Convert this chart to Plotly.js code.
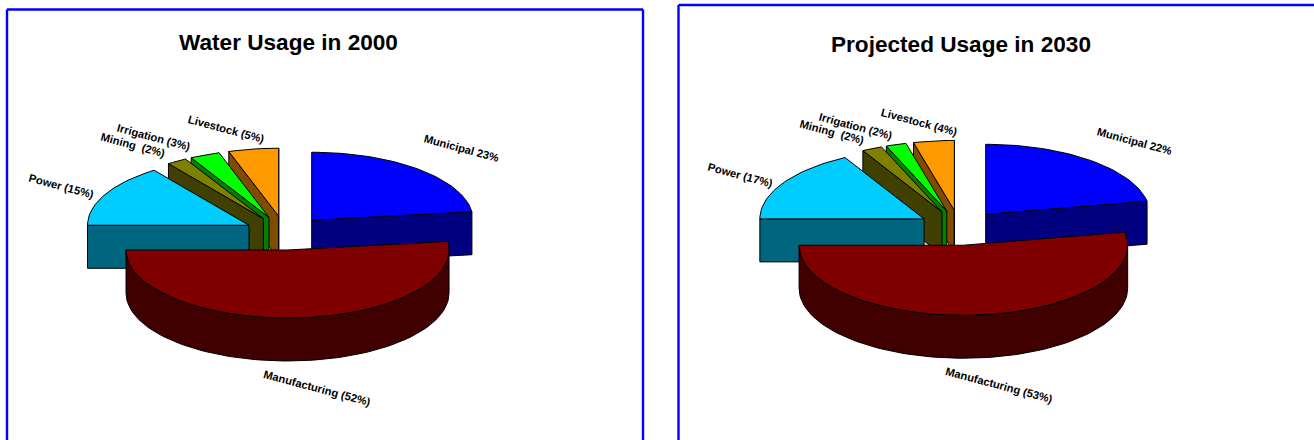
<!DOCTYPE html>
<html>
<head>
<meta charset="utf-8">
<script src="https://cdn.plot.ly/plotly-3.0.1.min.js"></script>
<style>html,body{margin:0;padding:0;background:#fff}#chart{width:1314px;height:440px}</style>
</head>
<body>
<div id="chart"></div>
<script>
// Shares of water use by sector, clockwise from twelve o'clock.
const sectors = ['Municipal', 'Manufacturing', 'Power', 'Mining', 'Irrigation', 'Livestock'];
const usage2000 = [23, 52, 15, 2, 3, 5];
const usage2030 = [22, 53, 17, 2, 2, 4];
const labels2000 = ['Municipal 23%', 'Manufacturing (52%)', 'Power (15%)', 'Mining  (2%)', 'Irrigation (3%)', 'Livestock (5%)'];
const labels2030 = ['Municipal 22%', 'Manufacturing (53%)', 'Power (17%)', 'Mining  (2%)', 'Irrigation (2%)', 'Livestock (4%)'];
const title2000 = 'Water Usage in 2000';
const title2030 = 'Projected Usage in 2030';

// Top face and side wall colours per sector.
const topColors = ['#0000ff', '#800000', '#00ccff', '#808000', '#00ff00', '#ff9900'];
const wallColors = ['#000080', '#400000', '#006680', '#404000', '#008000', '#804c00'];

// Back-to-front painting order so nearer slices overlap farther ones.
const paintOrder = [5, 4, 3, 2, 0, 1];

const FONT = 'Liberation Sans, Arial, sans-serif';
const EXPLODE = 0.25;
const DEPTH = 43;

const pieLeft = {cx: 285, cy: 233, rx: 161.5, ry: 68};
const pieRight = {cx: 959.5, cy: 227.8, rx: 164.3, ry: 70};

// Label centres, in the same order as the sectors.
const labelSpotsLeft = [[461, 148], [317, 388], [61, 186], [133, 145], [153, 137], [226, 129]];
const labelSpotsRight = [[1134, 141], [999, 385], [740, 175], [832, 132], [855, 126], [919, 122]];

const rad = d => d * Math.PI / 180;

function arcPoints(pie, ax, ay, from, to, dy) {
  const pts = [];
  const steps = Math.max(2, Math.ceil(Math.abs(to - from) / 2));
  for (let i = 0; i <= steps; i++) {
    const a = rad(from + (to - from) * i / steps);
    pts.push([ax + pie.rx * Math.sin(a), ay - pie.ry * Math.cos(a) + dy]);
  }
  return pts;
}

function face(points, color, name) {
  const closed = points.concat([points[0]]);
  return {
    type: 'scatter', mode: 'lines', fill: 'toself', fillcolor: color, name,
    x: closed.map(p => p[0]), y: closed.map(p => p[1]),
    line: {color: '#000000', width: 1}, hoverinfo: 'name', showlegend: false
  };
}

// One exploded slice: visible side walls first, top face last.
function sliceTraces(pie, values, i) {
  const total = values.reduce((s, v) => s + v, 0);
  const before = values.slice(0, i).reduce((s, v) => s + v, 0);
  const a0 = before / total * 360;
  const a1 = (before + values[i]) / total * 360;
  const mid = rad((a0 + a1) / 2);
  const ax = pie.cx + EXPLODE * pie.rx * Math.sin(mid);
  const ay = pie.cy - EXPLODE * pie.ry * Math.cos(mid);
  const out = [];

  const radialWall = a => {
    const rim = arcPoints(pie, ax, ay, a, a, 0)[0];
    return [[ax, ay], rim, [rim[0], rim[1] + DEPTH], [ax, ay + DEPTH]];
  };
  if (Math.sin(rad(a0)) < -1e-6 || a0 >= 180) out.push(face(radialWall(a0), wallColors[i], sectors[i]));
  if (Math.sin(rad(a1)) > 1e-6 || a1 === 360) out.push(face(radialWall(a1), wallColors[i], sectors[i]));

  const from = Math.max(a0, 90), to = Math.min(a1, 270);
  if (to > from) {
    const upper = arcPoints(pie, ax, ay, from, to, 0);
    const lower = arcPoints(pie, ax, ay, to, from, DEPTH);
    out.push(face(upper.concat(lower), wallColors[i], sectors[i]));
  }
  const top = [[ax, ay]].concat(arcPoints(pie, ax, ay, a0, a1, 0));
  out.push(face(top, topColors[i], sectors[i]));
  return out;
}

function pieTraces(pie, values) {
  return paintOrder.flatMap(i => sliceTraces(pie, values, i));
}

function sliceLabels(texts, spots) {
  return texts.map((text, i) => ({
    text: '<b>' + text.replace('  ', '&nbsp; ') + '</b>',
    x: spots[i][0], y: spots[i][1], xref: 'x', yref: 'y', showarrow: false,
    textangle: 15, xanchor: 'center', yanchor: 'middle',
    font: {family: FONT, size: 11.2, color: '#000000'}
  }));
}

function heading(text, x, y) {
  return {text: '<b>' + text + '</b>', x, y, xref: 'x', yref: 'y', showarrow: false,
    xanchor: 'center', yanchor: 'middle', font: {family: FONT, size: 22.6, color: '#000000'}};
}

function rule(x0, y0, x1, y1) {
  return {type: 'line', xref: 'x', yref: 'y', x0, y0, x1, y1, line: {color: '#0000ff', width: 2.4}};
}

const hiddenAxis = {visible: false, fixedrange: true, showgrid: false, zeroline: false};

const layout = {
  width: 1314, height: 440, margin: {l: 0, r: 0, t: 0, b: 0},
  paper_bgcolor: '#ffffff', plot_bgcolor: '#ffffff', showlegend: false,
  xaxis: Object.assign({range: [0, 1314]}, hiddenAxis),
  yaxis: Object.assign({range: [440, 0]}, hiddenAxis),
  shapes: [
    rule(7, 9.5, 643, 9.5), rule(7, 9.5, 7, 440), rule(643, 9.5, 643, 440),
    rule(678.5, 5, 1314, 5), rule(678.5, 5, 678.5, 440)
  ],
  annotations: [heading(title2000, 288, 42), heading(title2030, 961, 44)]
    .concat(sliceLabels(labels2000, labelSpotsLeft), sliceLabels(labels2030, labelSpotsRight))
};

const traces = pieTraces(pieLeft, usage2000).concat(pieTraces(pieRight, usage2030));
Plotly.newPlot('chart', traces, layout, {displayModeBar: false, responsive: false});
</script>
</body>
</html>
